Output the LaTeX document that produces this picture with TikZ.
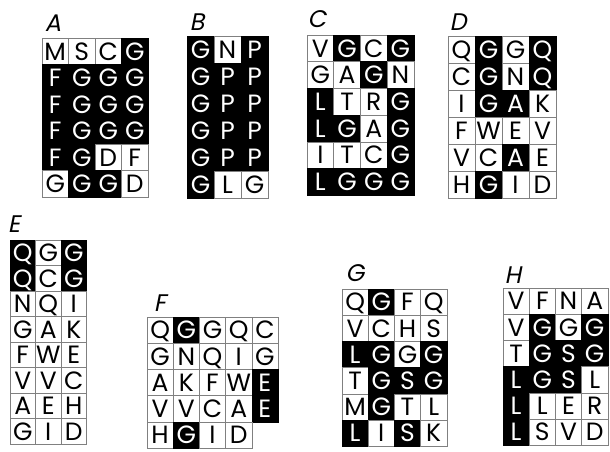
\documentclass[tikz,border=0pt]{standalone}
\usepackage{fontspec}
\setmainfont{Poppins}
\newfontfamily\panelfont[FakeSlant=0.2]{Poppins}
\usetikzlibrary{positioning}

% one panel: name, left, top, cell size, rows of letter/shade
\newcommand{\drawpanel}[5]{%
  \begin{scope}[shift={(#2,#3)}]
    \def\cs{#4}
    \foreach \rowlist [count=\rw from 0] in {#5} {
      \foreach \ltr/\sh [count=\col from 0] in \rowlist {
        \node[cell\sh] (#1-\rw-\col) at ({(\col+0.5)*\cs},{(\rw+0.5)*\cs}) {\ltr};
      }
    }
  \end{scope}}

\begin{document}
\begin{tikzpicture}[
    x=1pt, y=-1pt,
    cellw/.style={minimum size=\cs pt, inner sep=0pt, outer sep=0pt, draw=black!50, line width=0.5pt, fill=white,
      font=\fontsize{25}{25}\selectfont, text height=17.5pt, text depth=0pt, anchor=center},
    cellb/.style={cellw, draw=black, fill=black, text=white},
    panel/.style={font=\panelfont\fontsize{24}{24}\selectfont, inner sep=0pt}
]
\useasboundingbox (0,0) rectangle (610,451);

\node[panel] (labA) at (53,23) {A};
\drawpanel{A}{42}{38}{26.5}{
  {M/w,S/w,C/w,G/b},
  {F/b,G/b,G/b,G/b},
  {F/b,G/b,G/b,G/b},
  {F/b,G/b,G/b,G/b},
  {F/b,G/b,D/w,F/w},
  {G/w,G/b,G/b,D/w}}

\node[panel] (labB) at (197,22) {B};
\drawpanel{B}{187}{36}{27}{
  {G/b,N/w,P/b},
  {G/b,P/b,P/b},
  {G/b,P/b,P/b},
  {G/b,P/b,P/b},
  {G/b,P/b,P/b},
  {G/b,L/w,G/w}}

\node[panel] (labC) at (317,19) {C};
\drawpanel{C}{307}{35}{26.7}{
  {V/w,G/b,C/w,G/b},
  {G/w,A/w,G/b,N/w},
  {L/b,T/w,R/w,G/b},
  {L/b,G/b,A/w,G/b},
  {I/w,T/w,C/w,G/b},
  {L/b,G/b,G/b,G/b}}

\node[panel] (labD) at (458,22) {D};
\drawpanel{D}{448}{36}{27}{
  {Q/w,G/b,G/w,Q/b},
  {C/w,G/b,N/w,Q/b},
  {I/w,G/b,A/b,K/w},
  {F/w,W/w,E/w,V/w},
  {V/w,C/w,A/b,E/w},
  {H/w,G/b,I/w,D/w}}

\node[panel] (labE) at (14,224) {E};
\drawpanel{E}{10}{240}{25.5}{
  {Q/b,G/w,G/b},
  {Q/b,C/w,G/b},
  {N/w,Q/w,I/w},
  {G/w,A/w,K/w},
  {F/w,W/w,E/w},
  {V/w,V/w,C/w},
  {A/w,E/w,H/w},
  {G/w,I/w,D/w}}

\node[panel] (labF) at (160,303) {F};
\drawpanel{F}{147}{317}{26.2}{
  {Q/w,G/b,G/w,Q/w,C/w},
  {G/w,N/w,Q/w,I/w,G/w},
  {A/w,K/w,F/w,W/w,E/b},
  {V/w,V/w,C/w,A/w,E/b},
  {H/w,G/b,I/w,D/w}}

\node[panel] (labG) at (355,273) {G};
\drawpanel{G}{342}{289}{26.2}{
  {Q/w,G/b,F/w,Q/w},
  {V/w,C/w,H/w,S/w},
  {L/b,G/b,G/w,G/b},
  {T/w,G/b,S/b,G/b},
  {M/w,G/b,T/w,L/w},
  {L/b,I/w,S/b,K/w}}

\node[panel] (labH) at (513,275) {H};
\drawpanel{H}{503}{288}{26.2}{
  {V/w,F/w,N/w,A/w},
  {V/w,G/b,G/w,G/b},
  {T/w,G/b,S/b,G/b},
  {L/b,G/b,S/b,L/w},
  {L/b,L/w,E/w,R/w},
  {L/b,S/w,V/w,D/w}}
\end{tikzpicture}
\end{document}
